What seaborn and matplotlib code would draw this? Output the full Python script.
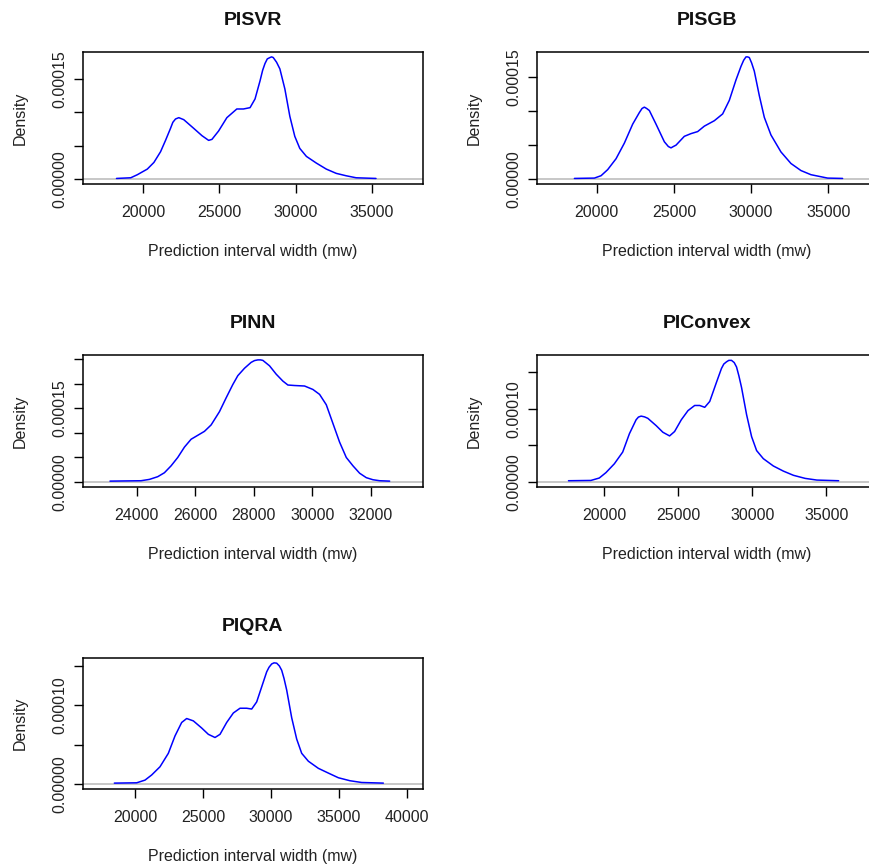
import matplotlib
matplotlib.use("Agg")
import matplotlib.pyplot as plt
import seaborn as sns
import pandas as pd

# ---------------- data ----------------
titles = ["PISVR", "PISGB", "PINN", "PIConvex", "PIQRA"]

pisvr_x = [18263, 19197, 19631, 20282, 20716, 21150, 21476, 21802, 21954, 22128, 22345,
           22670, 23322, 23864, 24299, 24516, 24950, 25493, 26144, 26578, 27012,
           27338, 27664, 27837, 27989, 28141, 28315, 28423, 28532, 28749, 28966, 29118,
           29292, 29618, 29943, 30269, 30703, 31354, 32006, 32657, 33308, 33960, 35262]
pisvr_y = [1.0e-6, 2.0e-6, 6.6e-6, 1.5e-5, 2.5e-5, 4.1e-5, 5.8e-5, 7.6e-5, 8.5e-5, 9.0e-5, 9.2e-5,
           8.9e-5, 7.6e-5, 6.5e-5, 5.8e-5, 5.95e-5, 7.2e-5, 9.2e-5, 1.05e-4, 1.05e-4, 1.07e-4,
           1.20e-4, 1.47e-4, 1.63e-4, 1.73e-4, 1.80e-4, 1.82e-4, 1.83e-4, 1.82e-4, 1.75e-4, 1.65e-4, 1.51e-4,
           1.35e-4, 9.4e-5, 6.4e-5, 4.6e-5, 3.4e-5, 2.4e-5, 1.5e-5, 8.6e-6, 5.0e-6, 2.0e-6, 1.0e-6]

pisgb_x = [18554, 19849, 20281, 20712, 21252, 21791, 22331, 22762, 22935, 23086, 23237, 23410,
           23841, 24381, 24640, 24812, 24964, 25136, 25675, 26107, 26539, 26970, 27618, 28157,
           28589, 29020, 29344, 29517, 29668, 29776, 29884, 30035, 30207, 30531, 30855, 31286, 31934,
           32581, 33229, 33876, 34523, 34955, 35926]
pisgb_y = [1.0e-6, 1.5e-6, 5.0e-6, 1.4e-5, 3.0e-5, 5.3e-5, 8.1e-5, 9.8e-5, 1.04e-4, 1.06e-4, 1.04e-4, 1.01e-4,
           8.1e-5, 5.5e-5, 4.8e-5, 4.6e-5, 4.8e-5, 5.0e-5, 6.3e-5, 6.7e-5, 7.0e-5, 7.8e-5, 8.6e-5, 9.6e-5,
           1.16e-4, 1.46e-4, 1.66e-4, 1.75e-4, 1.80e-4, 1.80e-4, 1.79e-4, 1.71e-4, 1.59e-4, 1.23e-4, 9.1e-5, 6.5e-5, 4.0e-5,
           2.3e-5, 1.26e-5, 6.5e-6, 3.5e-6, 1.5e-6, 1.0e-6]

pinn_x = [23087, 24148, 24434, 24719, 24947, 25175, 25403, 25632, 25860, 26088,
          26316, 26544, 26830, 27058, 27286, 27457, 27685, 27913, 28028, 28142, 28233, 28313,
          28541, 28769, 28997, 29169, 29397, 29739, 30024, 30252, 30481, 30709,
          30937, 31165, 31394, 31622, 31850, 32078, 32306, 32648]
pinn_y = [2.0e-6, 2.8e-6, 5.5e-6, 1.1e-5, 1.9e-5, 3.3e-5, 5.0e-5, 7.1e-5, 8.7e-5, 9.5e-5,
          1.03e-4, 1.16e-4, 1.43e-4, 1.71e-4, 1.98e-4, 2.16e-4, 2.31e-4, 2.43e-4, 2.466e-4, 2.48e-4, 2.48e-4, 2.47e-4,
          2.36e-4, 2.19e-4, 2.05e-4, 1.97e-4, 1.96e-4, 1.95e-4, 1.88e-4, 1.78e-4, 1.57e-4, 1.19e-4,
          8.1e-5, 5.0e-5, 3.3e-5, 1.8e-5, 9.0e-6, 4.8e-6, 2.8e-6, 2.0e-6]

piconvex_x = [17580, 19095, 19661, 20113, 20679, 21244, 21697, 22149, 22307, 22488, 22714, 22941,
              23506, 23958, 24411, 24750, 25203, 25655, 26107, 26447, 26786, 27125,
              27578, 27917, 28075, 28256, 28414, 28596, 28777, 28935, 29093, 29274, 29614, 29953, 30292, 30745,
              31423, 32102, 32780, 33572, 34364, 35834]
piconvex_y = [1.9e-6, 2.3e-6, 5.6e-6, 1.3e-5, 2.5e-5, 4.1e-5, 6.6e-5, 8.5e-5, 8.87e-5, 9.0e-5, 8.9e-5, 8.7e-5,
              7.7e-5, 6.8e-5, 6.3e-5, 6.9e-5, 8.5e-5, 9.75e-5, 1.045e-4, 1.045e-4, 1.02e-4, 1.10e-4,
              1.36e-4, 1.55e-4, 1.61e-4, 1.64e-4, 1.66e-4, 1.66e-4, 1.63e-4, 1.57e-4, 1.45e-4, 1.29e-4, 9.2e-5, 6.2e-5, 4.3e-5, 3.2e-5,
              2.2e-5, 1.5e-5, 9.3e-6, 5.1e-6, 2.8e-6, 1.9e-6]

piqra_x = [18478, 20123, 20736, 21227, 21841, 22454, 22945, 23436, 23804, 24295,
           24908, 25399, 25890, 26258, 26749, 27239, 27730, 28221, 28589, 28957,
           29325, 29693, 29865, 30061, 30233, 30430, 30626, 30798, 30969, 31166, 31534, 31902, 32270, 32761,
           33497, 34233, 34969, 35828, 36687, 38282]
piqra_y = [1.3e-6, 1.7e-6, 5.1e-6, 1.16e-5, 2.2e-5, 3.9e-5, 6.1e-5, 7.8e-5, 8.3e-5, 8.0e-5,
           7.1e-5, 6.3e-5, 5.9e-5, 6.3e-5, 7.8e-5, 9.0e-5, 9.6e-5, 9.6e-5, 9.5e-5, 1.04e-4,
           1.23e-4, 1.42e-4, 1.478e-4, 1.52e-4, 1.534e-4, 1.53e-4, 1.495e-4, 1.44e-4, 1.337e-4, 1.19e-4, 8.4e-5, 5.7e-5, 3.9e-5, 2.9e-5,
           2.0e-5, 1.4e-5, 8.1e-6, 4.3e-6, 2.1e-6, 1.3e-6]

xticks_5k = [20000, 25000, 30000, 35000]
xticks_pinn = [24000, 26000, 28000, 30000, 32000]
xticks_piqra = [20000, 25000, 30000, 35000, 40000]

yticks_a = [0.0, 5e-5, 1e-4, 1.5e-4]
ylabels_a = ["0.00000", "", "", "0.00015"]
yticks_pinn = [0.0, 5e-5, 1e-4, 1.5e-4, 2e-4, 2.5e-4]
ylabels_pinn = ["0.00000", "", "", "0.00015", "", ""]
ylabels_b = ["0.00000", "", "0.00010", ""]

xs = [pisvr_x, pisgb_x, pinn_x, piconvex_x, piqra_x]
ys = [pisvr_y, pisgb_y, pinn_y, piconvex_y, piqra_y]
xticks = [xticks_5k, xticks_5k, xticks_pinn, xticks_5k, xticks_piqra]
yticks = [yticks_a, yticks_a, yticks_pinn, yticks_a, yticks_a]
yticklabels = [ylabels_a, ylabels_a, ylabels_pinn, ylabels_b, ylabels_b]

# ---------------- layout ----------------
W, H = 870, 867
rects_px = [(83, 52, 340, 132), (537, 52, 340, 132),
            (83, 355, 340, 132), (537, 355.5, 340, 131.5),
            (83, 658, 340, 131)]
xlims = [(16070, 38340), (16133, 38154), (22164, 33788), (15453, 38426), (16172, 41200)]

sns.set_style("ticks")
plt.rcParams["font.family"] = ["Liberation Sans", "DejaVu Sans"]

fig = plt.figure(figsize=(W / 100, H / 100), dpi=100)
fig.patch.set_facecolor("white")

for i in range(5):
    l, t, w, h = rects_px[i]
    ax = fig.add_axes([l / W, 1 - (t + h) / H, w / W, h / H])
    df = pd.DataFrame({"x": xs[i], "y": ys[i]})
    ax.axhline(0, color="#BEBEBE", lw=1.2, zorder=1)
    sns.lineplot(data=df, x="x", y="y", ax=ax, color="#0000FF", lw=1.1,
                 legend=False, zorder=2)
    m = max(ys[i])
    ax.set_xlim(*xlims[i])
    ax.set_ylim(-0.04 * m, 1.04 * m)
    ax.set_xticks(xticks[i])
    ax.set_xticklabels([str(v) for v in xticks[i]])
    ax.set_yticks(yticks[i])
    ax.set_yticklabels(yticklabels[i])
    for s in ax.spines.values():
        s.set_visible(True)
        s.set_color("black")
        s.set_linewidth(1.1)
    ax.tick_params(axis="both", direction="out", length=6.3, width=1.0,
                   colors="black", labelsize=11.5, labelcolor="#222222")
    ax.tick_params(axis="x", pad=9)
    ax.tick_params(axis="y", pad=5, labelrotation=90)
    for lab in ax.get_yticklabels():
        lab.set_va("center")
    ax.set_title(titles[i], fontsize=14, fontweight="bold", pad=19.5, color="#111111")
    ax.set_xlabel("Prediction interval width (mw)", fontsize=11.5, color="#222222")
    ax.xaxis.label.set_va("center")
    ax.xaxis.set_label_coords(0.5, -67 / h)
    ax.set_ylabel("Density", fontsize=11.5, color="#222222")
    ax.yaxis.label.set_va("center")
    ax.yaxis.set_label_coords(-63 / w, 0.5)
    ax.grid(False)

fig.savefig("out.png", dpi=100, facecolor="white")
